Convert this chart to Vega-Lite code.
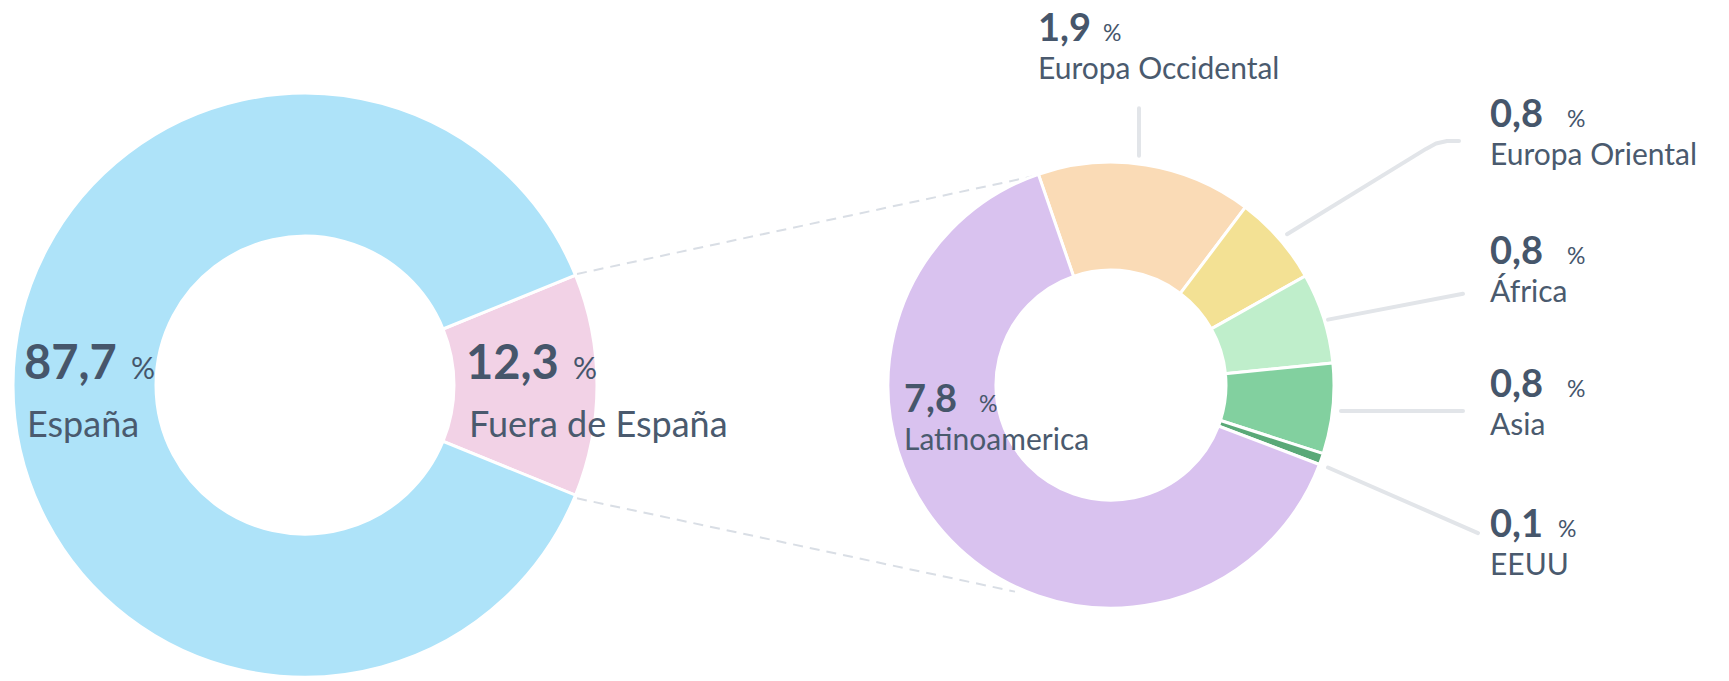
{
  "$schema": "https://vega.github.io/schema/vega-lite/v6.json",
  "autosize": {"type": "fit", "contains": "padding"},
  "width": 1729,
  "height": 681,
  "padding": 0,
  "background": "#ffffff",
  "config": {"view": {"stroke": null}, "font": "Lato"},
  "datasets": {
    "slices": [
      {"group": "left", "cat": "Fuera de España", "value": 12.3, "ord": 1},
      {"group": "left", "cat": "España", "value": 87.7, "ord": 2},
      {"group": "right", "cat": "Europa Occidental", "value": 1.9, "ord": 1},
      {"group": "right", "cat": "Europa Oriental", "value": 0.8, "ord": 2},
      {"group": "right", "cat": "África", "value": 0.8, "ord": 3},
      {"group": "right", "cat": "Asia", "value": 0.8, "ord": 4},
      {"group": "right", "cat": "EEUU", "value": 0.1, "ord": 5},
      {"group": "right", "cat": "Latinoamerica", "value": 7.8, "ord": 6}
    ],
    "labels": [
      {"group": "left", "cat": "España", "num": "87,7", "x": 24, "y": 382, "px": 131},
      {"group": "left", "cat": "Fuera de España", "num": "12,3", "x": 466, "y": 382, "px": 573},
      {"group": "right", "cat": "Europa Occidental", "num": "1,9", "x": 1038, "y": 41, "px": 1103},
      {"group": "right", "cat": "Latinoamerica", "num": "7,8", "x": 904, "y": 415, "px": 979},
      {"group": "right", "cat": "Europa Oriental", "num": "0,8", "x": 1490, "y": 128, "px": 1567},
      {"group": "right", "cat": "África", "num": "0,8", "x": 1490, "y": 266, "px": 1567},
      {"group": "right", "cat": "Asia", "num": "0,8", "x": 1490, "y": 400, "px": 1567},
      {"group": "right", "cat": "EEUU", "num": "0,1", "x": 1490, "y": 541, "px": 1558}
    ],
    "leaders": [
      {"id": "occ", "k": 1, "x": 1139, "y": 109},
      {"id": "occ", "k": 2, "x": 1139, "y": 157},
      {"id": "ori", "k": 1, "x": 1287, "y": 236},
      {"id": "ori", "k": 2, "x": 1426, "y": 150},
      {"id": "ori", "k": 3, "x": 1436, "y": 144.5},
      {"id": "ori", "k": 4, "x": 1447, "y": 142},
      {"id": "ori", "k": 5, "x": 1459, "y": 142},
      {"id": "afr", "k": 1, "x": 1328, "y": 322},
      {"id": "afr", "k": 2, "x": 1463, "y": 296},
      {"id": "asia", "k": 1, "x": 1341, "y": 414},
      {"id": "asia", "k": 2, "x": 1463, "y": 414},
      {"id": "eeuu", "k": 1, "x": 1328, "y": 471},
      {"id": "eeuu", "k": 2, "x": 1478, "y": 537}
    ],
    "connectors": [
      {"id": "top", "k": 1, "x": 577, "y": 276},
      {"id": "top", "k": 2, "x": 1036, "y": 177},
      {"id": "bottom", "k": 1, "x": 577, "y": 502},
      {"id": "bottom", "k": 2, "x": 1015, "y": 596}
    ]
  },
  "resolve": {"scale": {"theta": "independent"}},
  "layer": [
    {
      "data": {"name": "connectors"},
      "mark": {"type": "line", "stroke": "#d9dee5", "strokeWidth": 2, "strokeDash": [10, 7]},
      "encoding": {
        "x": {"field": "x", "type": "quantitative", "scale": {"domain": [0, 1729], "nice": false, "zero": false}, "axis": null},
        "y": {"field": "y", "type": "quantitative", "scale": {"domain": [0, 681], "nice": false, "zero": false, "reverse": true}, "axis": null},
        "detail": {"field": "id"},
        "order": {"field": "k", "type": "quantitative"}
      }
    },
    {
      "data": {"name": "slices"},
      "transform": [{"filter": "datum.group === 'left'"}],
      "mark": {"type": "arc", "radius": 292, "radius2": 149, "stroke": "#ffffff", "strokeWidth": 3},
      "encoding": {
        "x": {"datum": 305, "type": "quantitative"},
        "y": {"datum": 388, "type": "quantitative"},
        "theta": {"field": "value", "type": "quantitative", "stack": true, "scale": {"range": [1.1844, 7.4676]}},
        "order": {"field": "ord", "type": "quantitative"},
        "color": {
          "field": "cat", "type": "nominal", "legend": null,
          "scale": {
            "domain": ["España", "Fuera de España", "Europa Occidental", "Europa Oriental", "África", "Asia", "EEUU", "Latinoamerica"],
            "range": ["#aee3f9", "#f2d2e6", "#fadbb6", "#f3e194", "#bfeecb", "#82d09f", "#5aa978", "#d9c2ef"]
          }
        }
      }
    },
    {
      "data": {"name": "slices"},
      "transform": [{"filter": "datum.group === 'right'"}],
      "mark": {"type": "arc", "radius": 223, "radius2": 115, "stroke": "#ffffff", "strokeWidth": 3},
      "encoding": {
        "x": {"datum": 1111, "type": "quantitative"},
        "y": {"datum": 388, "type": "quantitative"},
        "theta": {"field": "value", "type": "quantitative", "stack": true, "scale": {"range": [-0.3316, 5.9516]}},
        "order": {"field": "ord", "type": "quantitative"},
        "color": {"field": "cat", "type": "nominal", "legend": null}
      }
    },
    {
      "data": {"name": "leaders"},
      "mark": {"type": "line", "stroke": "#e2e5e9", "strokeWidth": 4, "strokeCap": "round", "strokeJoin": "round"},
      "encoding": {
        "x": {"field": "x", "type": "quantitative"},
        "y": {"field": "y", "type": "quantitative"},
        "detail": {"field": "id"},
        "order": {"field": "k", "type": "quantitative"}
      }
    },
    {
      "data": {"name": "labels"},
      "transform": [{"filter": "datum.group === 'left'"}],
      "mark": {"type": "text", "align": "left", "baseline": "alphabetic", "fontSize": 47, "fontWeight": 700, "color": "#46566b"},
      "encoding": {
        "x": {"field": "x", "type": "quantitative"},
        "y": {"field": "y", "type": "quantitative"},
        "text": {"field": "num"}
      }
    },
    {
      "data": {"name": "labels"},
      "transform": [{"filter": "datum.group === 'left'"}],
      "mark": {"type": "text", "align": "left", "baseline": "alphabetic", "fontSize": 30, "fontWeight": 400, "color": "#46566b", "text": "%"},
      "encoding": {
        "x": {"field": "px", "type": "quantitative"},
        "y": {"field": "y", "type": "quantitative"}
      }
    },
    {
      "data": {"name": "labels"},
      "transform": [{"filter": "datum.group === 'left'"}],
      "mark": {"type": "text", "align": "left", "baseline": "alphabetic", "fontSize": 36, "fontWeight": 400, "color": "#4a5a6e", "dy": 58, "dx": 3},
      "encoding": {
        "x": {"field": "x", "type": "quantitative"},
        "y": {"field": "y", "type": "quantitative"},
        "text": {"field": "cat"}
      }
    },
    {
      "data": {"name": "labels"},
      "transform": [{"filter": "datum.group === 'right'"}],
      "mark": {"type": "text", "align": "left", "baseline": "alphabetic", "fontSize": 38, "fontWeight": 700, "color": "#46566b"},
      "encoding": {
        "x": {"field": "x", "type": "quantitative"},
        "y": {"field": "y", "type": "quantitative"},
        "text": {"field": "num"}
      }
    },
    {
      "data": {"name": "labels"},
      "transform": [{"filter": "datum.group === 'right'"}],
      "mark": {"type": "text", "align": "left", "baseline": "alphabetic", "fontSize": 23, "fontWeight": 400, "color": "#46566b", "text": "%"},
      "encoding": {
        "x": {"field": "px", "type": "quantitative"},
        "y": {"field": "y", "type": "quantitative"}
      }
    },
    {
      "data": {"name": "labels"},
      "transform": [{"filter": "datum.group === 'right'"}],
      "mark": {"type": "text", "align": "left", "baseline": "alphabetic", "fontSize": 30, "fontWeight": 400, "color": "#4a5a6e", "dy": 38},
      "encoding": {
        "x": {"field": "x", "type": "quantitative"},
        "y": {"field": "y", "type": "quantitative"},
        "text": {"field": "cat"}
      }
    }
  ]
}
